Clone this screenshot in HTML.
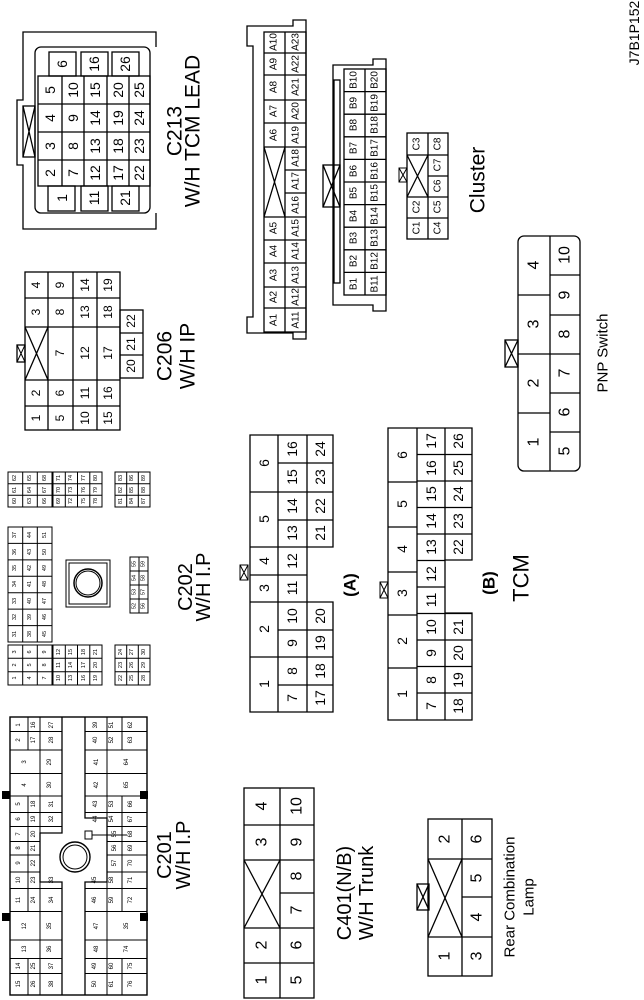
<!DOCTYPE html>
<html><head><meta charset="utf-8"><style>
html,body{margin:0;padding:0;background:#fff;}
svg{display:block}
text{font-family:"Liberation Sans",sans-serif;text-anchor:middle;dominant-baseline:central;fill:#000}
.s{fill:none;stroke:#000;stroke-width:1.3}
.t{stroke-width:1}
</style></head><body>
<svg width="644" height="1000" viewBox="0 0 644 1000" xmlns="http://www.w3.org/2000/svg">

<!-- header -->
<text x="634" y="33" transform="rotate(-90 634 33)" font-size="14">J7B1P152</text>

<!-- ===== C213 ===== -->
<path class="s" d="M156,47 V32 H23 V100 H17 V165 H23 V229 H156 V213" stroke-width="1.8"/>
<rect class="s" x="35" y="47" width="115" height="166" rx="6" stroke-width="1.8"/>
<rect class="s" x="23" y="106" width="12" height="51"/>
<path class="s" d="M23,106 L35,157 M35,106 L23,157"/>
<rect class="s" x="38" y="76" width="112" height="110"/>
<path class="s" d="M62,76V186 M84,76V186 M107,76V186 M129,76V186 M38,104H150 M38,132H150 M38,160H150"/>
<rect class="s" x="49" y="52" width="27" height="24"/><rect class="s" x="81" y="52" width="27" height="24"/><rect class="s" x="112" y="52" width="27" height="24"/>
<rect class="s" x="48" y="186" width="27" height="25"/><rect class="s" x="81" y="186" width="27" height="25"/><rect class="s" x="112" y="186" width="27" height="25"/>
<g font-size="14">
<text x="62" y="64" transform="rotate(-90 62 64)">6</text>
<text x="94" y="64" transform="rotate(-90 94 64)">16</text>
<text x="125" y="64" transform="rotate(-90 125 64)">26</text>
<text x="62" y="198" transform="rotate(-90 62 198)">1</text>
<text x="94" y="198" transform="rotate(-90 94 198)">11</text>
<text x="125" y="198" transform="rotate(-90 125 198)">21</text>
<text x="50" y="90" transform="rotate(-90 50 90)">5</text>
<text x="50" y="118" transform="rotate(-90 50 118)">4</text>
<text x="50" y="146" transform="rotate(-90 50 146)">3</text>
<text x="50" y="173" transform="rotate(-90 50 173)">2</text>
<text x="73" y="90" transform="rotate(-90 73 90)">10</text>
<text x="73" y="118" transform="rotate(-90 73 118)">9</text>
<text x="73" y="146" transform="rotate(-90 73 146)">8</text>
<text x="73" y="173" transform="rotate(-90 73 173)">7</text>
<text x="95" y="90" transform="rotate(-90 95 90)">15</text>
<text x="95" y="118" transform="rotate(-90 95 118)">14</text>
<text x="95" y="146" transform="rotate(-90 95 146)">13</text>
<text x="95" y="173" transform="rotate(-90 95 173)">12</text>
<text x="118" y="90" transform="rotate(-90 118 90)">20</text>
<text x="118" y="118" transform="rotate(-90 118 118)">19</text>
<text x="118" y="146" transform="rotate(-90 118 146)">18</text>
<text x="118" y="173" transform="rotate(-90 118 173)">17</text>
<text x="139" y="90" transform="rotate(-90 139 90)">25</text>
<text x="139" y="118" transform="rotate(-90 139 118)">24</text>
<text x="139" y="146" transform="rotate(-90 139 146)">23</text>
<text x="139" y="173" transform="rotate(-90 139 173)">22</text>
</g>
<g font-size="21">
<text x="175" y="131" transform="rotate(-90 175 131)">C213</text>
<text x="193" y="131" transform="rotate(-90 193 131)">W/H TCM LEAD</text>
</g>

<!-- ===== C206 ===== -->
<rect class="s" x="25" y="272" width="95" height="158"/>
<path class="s" d="M48,272V430 M73,272V430 M97,272V430 M25,298H120 M25,327H120 M25,380H120 M25,406H120 M25,327L48,380 M48,327L25,380"/>
<rect class="s" x="120" y="310" width="23" height="68"/>
<path class="s" d="M120,333H143 M120,355H143"/>
<rect class="s" x="17" y="345" width="8" height="17"/><path class="s t" d="M17,345L25,362M25,345L17,362"/>
<g font-size="12">
<text x="36" y="285" transform="rotate(-90 36 285)">4</text>
<text x="36" y="312" transform="rotate(-90 36 312)">3</text>
<text x="36" y="393" transform="rotate(-90 36 393)">2</text>
<text x="36" y="418" transform="rotate(-90 36 418)">1</text>
<text x="60" y="285" transform="rotate(-90 60 285)">9</text>
<text x="60" y="312" transform="rotate(-90 60 312)">8</text>
<text x="60" y="353" transform="rotate(-90 60 353)">7</text>
<text x="60" y="393" transform="rotate(-90 60 393)">6</text>
<text x="60" y="418" transform="rotate(-90 60 418)">5</text>
<text x="85" y="285" transform="rotate(-90 85 285)">14</text>
<text x="85" y="312" transform="rotate(-90 85 312)">13</text>
<text x="85" y="353" transform="rotate(-90 85 353)">12</text>
<text x="85" y="393" transform="rotate(-90 85 393)">11</text>
<text x="85" y="418" transform="rotate(-90 85 418)">10</text>
<text x="108" y="285" transform="rotate(-90 108 285)">19</text>
<text x="108" y="312" transform="rotate(-90 108 312)">18</text>
<text x="108" y="353" transform="rotate(-90 108 353)">17</text>
<text x="108" y="393" transform="rotate(-90 108 393)">16</text>
<text x="108" y="418" transform="rotate(-90 108 418)">15</text>
<text x="131" y="321" transform="rotate(-90 131 321)">22</text>
<text x="131" y="344" transform="rotate(-90 131 344)">21</text>
<text x="131" y="366" transform="rotate(-90 131 366)">20</text>
</g>
<g font-size="21">
<text x="165" y="356" transform="rotate(-90 165 356)">C206</text>
<text x="188" y="356" transform="rotate(-90 188 356)">W/H IP</text>
</g>

<!-- ===== Cluster A ===== -->
<path class="s" d="M293,26 V20 H306 V339 H293 V333 H247 V317 H253 V46 H247 V26 Z"/>
<rect class="s" x="264" y="32" width="42" height="300"/>
<path class="s" d="M285,32V332 M264,53H306 M264,75H306 M264,100H306 M264,123H306 M264,147H306 M285,170H306 M285,193H306 M264,217H306 M264,240H306 M264,263H306 M264,287H306 M264,308H306 M264,147L285,217 M285,147L264,217"/>
<g font-size="10">
<text x="274" y="42" transform="rotate(-90 274 42)">A10</text>
<text x="274" y="64" transform="rotate(-90 274 64)">A9</text>
<text x="274" y="87" transform="rotate(-90 274 87)">A8</text>
<text x="274" y="111" transform="rotate(-90 274 111)">A7</text>
<text x="274" y="135" transform="rotate(-90 274 135)">A6</text>
<text x="274" y="228" transform="rotate(-90 274 228)">A5</text>
<text x="274" y="251" transform="rotate(-90 274 251)">A4</text>
<text x="274" y="275" transform="rotate(-90 274 275)">A3</text>
<text x="274" y="297" transform="rotate(-90 274 297)">A2</text>
<text x="274" y="320" transform="rotate(-90 274 320)">A1</text>
<text x="296" y="42" transform="rotate(-90 296 42)">A23</text>
<text x="296" y="64" transform="rotate(-90 296 64)">A22</text>
<text x="296" y="87" transform="rotate(-90 296 87)">A21</text>
<text x="296" y="111" transform="rotate(-90 296 111)">A20</text>
<text x="296" y="135" transform="rotate(-90 296 135)">A19</text>
<text x="296" y="158" transform="rotate(-90 296 158)">A18</text>
<text x="296" y="181" transform="rotate(-90 296 181)">A17</text>
<text x="296" y="205" transform="rotate(-90 296 205)">A16</text>
<text x="296" y="228" transform="rotate(-90 296 228)">A15</text>
<text x="296" y="251" transform="rotate(-90 296 251)">A14</text>
<text x="296" y="275" transform="rotate(-90 296 275)">A13</text>
<text x="296" y="297" transform="rotate(-90 296 297)">A12</text>
<text x="296" y="320" transform="rotate(-90 296 320)">A11</text>
</g>

<!-- ===== Cluster B ===== -->
<path class="s" d="M373,65 V59 H386 V311 H373 V305 H333 V65 Z"/>
<rect class="s" x="334" y="80" width="6" height="203"/>
<rect class="s" x="323" y="165" width="17" height="42" fill="#fff"/><path class="s" d="M323,165L340,207M340,165L323,207"/>
<rect class="s" x="344" y="69" width="42" height="226"/>
<path class="s" d="M365,69V295 M344,91.6H386 M344,114.2H386 M344,136.8H386 M344,159.4H386 M344,182H386 M344,204.6H386 M344,227.2H386 M344,249.8H386 M344,272.4H386"/>
<g font-size="10">
<text x="354" y="80" transform="rotate(-90 354 80)">B10</text>
<text x="354" y="103" transform="rotate(-90 354 103)">B9</text>
<text x="354" y="125" transform="rotate(-90 354 125)">B8</text>
<text x="354" y="148" transform="rotate(-90 354 148)">B7</text>
<text x="354" y="171" transform="rotate(-90 354 171)">B6</text>
<text x="354" y="193" transform="rotate(-90 354 193)">B5</text>
<text x="354" y="216" transform="rotate(-90 354 216)">B4</text>
<text x="354" y="238" transform="rotate(-90 354 238)">B3</text>
<text x="354" y="261" transform="rotate(-90 354 261)">B2</text>
<text x="354" y="284" transform="rotate(-90 354 284)">B1</text>
<text x="375" y="80" transform="rotate(-90 375 80)">B20</text>
<text x="375" y="103" transform="rotate(-90 375 103)">B19</text>
<text x="375" y="125" transform="rotate(-90 375 125)">B18</text>
<text x="375" y="148" transform="rotate(-90 375 148)">B17</text>
<text x="375" y="171" transform="rotate(-90 375 171)">B16</text>
<text x="375" y="193" transform="rotate(-90 375 193)">B15</text>
<text x="375" y="216" transform="rotate(-90 375 216)">B14</text>
<text x="375" y="238" transform="rotate(-90 375 238)">B13</text>
<text x="375" y="261" transform="rotate(-90 375 261)">B12</text>
<text x="375" y="284" transform="rotate(-90 375 284)">B11</text>
</g>

<!-- ===== Cluster C ===== -->
<rect class="s" x="407" y="133" width="41" height="106"/>
<path class="s" d="M428,133V239 M407,155H448 M428,176H448 M407,197H448 M407,218H448 M407,155L428,197 M428,155L407,197"/>
<rect class="s t" x="399" y="168" width="8" height="14"/><path class="s t" d="M399,168L407,182M407,168L399,182"/>
<g font-size="10">
<text x="417" y="144" transform="rotate(-90 417 144)">C3</text>
<text x="417" y="207" transform="rotate(-90 417 207)">C2</text>
<text x="417" y="228" transform="rotate(-90 417 228)">C1</text>
<text x="438" y="144" transform="rotate(-90 438 144)">C8</text>
<text x="438" y="165" transform="rotate(-90 438 165)">C7</text>
<text x="438" y="186" transform="rotate(-90 438 186)">C6</text>
<text x="438" y="207" transform="rotate(-90 438 207)">C5</text>
<text x="438" y="228" transform="rotate(-90 438 228)">C4</text>
</g>
<text x="478" y="180" transform="rotate(-90 478 180)" font-size="21">Cluster</text>

<!-- ===== PNP ===== -->
<rect class="s" x="518" y="236" width="62" height="235" rx="6"/>
<path class="s" d="M550,236V471 M518,295H550 M518,354H580 M518,413H550 M550,275H580 M550,315H580 M550,393H580 M550,432H580"/>
<rect class="s" x="505" y="340" width="13" height="27"/><path class="s" d="M505,340L518,367M518,340L505,367"/>
<g font-size="16">
<text x="534" y="265" transform="rotate(-90 534 265)">4</text>
<text x="534" y="324" transform="rotate(-90 534 324)">3</text>
<text x="534" y="383" transform="rotate(-90 534 383)">2</text>
<text x="534" y="442" transform="rotate(-90 534 442)">1</text>
<text x="565" y="255" transform="rotate(-90 565 255)">10</text>
<text x="565" y="295" transform="rotate(-90 565 295)">9</text>
<text x="565" y="334" transform="rotate(-90 565 334)">8</text>
<text x="565" y="373" transform="rotate(-90 565 373)">7</text>
<text x="565" y="412" transform="rotate(-90 565 412)">6</text>
<text x="565" y="451" transform="rotate(-90 565 451)">5</text>
</g>
<text x="603" y="353" transform="rotate(-90 603 353)" font-size="15">PNP Switch</text>

<!-- ===== TCM (A) ===== -->
<path class="s" d="M250,435 H333 V547 H307 V602 H333 V712 H250 Z" stroke-width="1.6"/>
<path class="s" d="M278,435V712 M307,435V547 M307,602V712 M250,492H278 M250,547H307 M250,575H307 M250,602H307 M250,657H278 M278,463H333 M278,492H333 M278,520H333 M278,630H333 M278,657H333 M278,685H333"/>
<rect class="s t" x="240" y="565" width="8" height="15"/><path class="s t" d="M240,565L248,580M248,565L240,580"/>
<g font-size="14">
<text x="264" y="463" transform="rotate(-90 264 463)">6</text>
<text x="264" y="519" transform="rotate(-90 264 519)">5</text>
<text x="264" y="561" transform="rotate(-90 264 561)">4</text>
<text x="264" y="588" transform="rotate(-90 264 588)">3</text>
<text x="264" y="629" transform="rotate(-90 264 629)">2</text>
<text x="264" y="684" transform="rotate(-90 264 684)">1</text>
<text x="292" y="449" transform="rotate(-90 292 449)">16</text>
<text x="292" y="477" transform="rotate(-90 292 477)">15</text>
<text x="292" y="506" transform="rotate(-90 292 506)">14</text>
<text x="292" y="533" transform="rotate(-90 292 533)">13</text>
<text x="292" y="561" transform="rotate(-90 292 561)">12</text>
<text x="292" y="588" transform="rotate(-90 292 588)">11</text>
<text x="292" y="616" transform="rotate(-90 292 616)">10</text>
<text x="292" y="643" transform="rotate(-90 292 643)">9</text>
<text x="292" y="671" transform="rotate(-90 292 671)">8</text>
<text x="292" y="698" transform="rotate(-90 292 698)">7</text>
<text x="320" y="449" transform="rotate(-90 320 449)">24</text>
<text x="320" y="477" transform="rotate(-90 320 477)">23</text>
<text x="320" y="506" transform="rotate(-90 320 506)">22</text>
<text x="320" y="533" transform="rotate(-90 320 533)">21</text>
<text x="320" y="616" transform="rotate(-90 320 616)">20</text>
<text x="320" y="643" transform="rotate(-90 320 643)">19</text>
<text x="320" y="671" transform="rotate(-90 320 671)">18</text>
<text x="320" y="698" transform="rotate(-90 320 698)">17</text>
</g>
<text x="350" y="585" transform="rotate(-90 350 585)" font-size="17" font-weight="bold">(A)</text>

<!-- ===== TCM (B) ===== -->
<path class="s" d="M388,428 H472 V560 H445 V613 H472 V720 H388 Z" stroke-width="1.6"/>
<path class="s" d="M417,428V720 M445,428V560 M445,613V720 M388,482H417 M388,527H417 M388,572H417 M388,615H417 M388,668H417
M417,454.5H472 M417,481H472 M417,507.5H472 M417,534H472 M417,560.5H445 M417,587H445 M417,613.5H472 M417,640H472 M417,666.5H472 M417,693H472"/>
<rect class="s t" x="380" y="582" width="8" height="16"/><path class="s t" d="M380,582L388,598M388,582L380,598"/>
<g font-size="14">
<text x="402" y="455" transform="rotate(-90 402 455)">6</text>
<text x="402" y="504" transform="rotate(-90 402 504)">5</text>
<text x="402" y="549" transform="rotate(-90 402 549)">4</text>
<text x="402" y="593" transform="rotate(-90 402 593)">3</text>
<text x="402" y="641" transform="rotate(-90 402 641)">2</text>
<text x="402" y="694" transform="rotate(-90 402 694)">1</text>
<text x="431" y="441" transform="rotate(-90 431 441)">17</text>
<text x="431" y="468" transform="rotate(-90 431 468)">16</text>
<text x="431" y="494" transform="rotate(-90 431 494)">15</text>
<text x="431" y="521" transform="rotate(-90 431 521)">14</text>
<text x="431" y="547" transform="rotate(-90 431 547)">13</text>
<text x="431" y="574" transform="rotate(-90 431 574)">12</text>
<text x="431" y="600" transform="rotate(-90 431 600)">11</text>
<text x="431" y="627" transform="rotate(-90 431 627)">10</text>
<text x="431" y="653" transform="rotate(-90 431 653)">9</text>
<text x="431" y="680" transform="rotate(-90 431 680)">8</text>
<text x="431" y="706" transform="rotate(-90 431 706)">7</text>
<text x="458" y="441" transform="rotate(-90 458 441)">26</text>
<text x="458" y="468" transform="rotate(-90 458 468)">25</text>
<text x="458" y="494" transform="rotate(-90 458 494)">24</text>
<text x="458" y="521" transform="rotate(-90 458 521)">23</text>
<text x="458" y="547" transform="rotate(-90 458 547)">22</text>
<text x="458" y="627" transform="rotate(-90 458 627)">21</text>
<text x="458" y="653" transform="rotate(-90 458 653)">20</text>
<text x="458" y="680" transform="rotate(-90 458 680)">19</text>
<text x="458" y="706" transform="rotate(-90 458 706)">18</text>
</g>
<text x="489" y="583" transform="rotate(-90 489 583)" font-size="17" font-weight="bold">(B)</text>
<text x="521" y="578" transform="rotate(-90 521 578)" font-size="22">TCM</text>

<!-- ===== C401 ===== -->
<rect class="s" x="244" y="788" width="70" height="210" stroke-width="1.6"/>
<path class="s" d="M280,788V998 M244,825H314 M244,860H314 M280,893H314 M244,928H314 M244,963H314 M244,860L280,928 M280,860L244,928"/>
<g font-size="16">
<text x="262" y="806" transform="rotate(-90 262 806)">4</text>
<text x="262" y="842" transform="rotate(-90 262 842)">3</text>
<text x="262" y="945" transform="rotate(-90 262 945)">2</text>
<text x="262" y="980" transform="rotate(-90 262 980)">1</text>
<text x="297" y="806" transform="rotate(-90 297 806)">10</text>
<text x="297" y="842" transform="rotate(-90 297 842)">9</text>
<text x="297" y="876" transform="rotate(-90 297 876)">8</text>
<text x="297" y="910" transform="rotate(-90 297 910)">7</text>
<text x="297" y="945" transform="rotate(-90 297 945)">6</text>
<text x="297" y="980" transform="rotate(-90 297 980)">5</text>
</g>
<g font-size="20">
<text x="345" y="893" transform="rotate(-90 345 893)">C401(N/B)</text>
<text x="367" y="893" transform="rotate(-90 367 893)">W/H Trunk</text>
</g>

<!-- ===== Rear Combination ===== -->
<rect class="s" x="428" y="819" width="64" height="157" stroke-width="1.6"/>
<path class="s" d="M462,819V976 M428,859H492 M462,897H492 M428,937H492 M428,859L462,937 M462,859L428,937"/>
<rect class="s" x="417" y="884" width="12" height="26"/><path class="s" d="M417,884L429,910M429,884L417,910"/>
<g font-size="16">
<text x="445" y="839" transform="rotate(-90 445 839)">2</text>
<text x="445" y="956" transform="rotate(-90 445 956)">1</text>
<text x="477" y="839" transform="rotate(-90 477 839)">6</text>
<text x="477" y="878" transform="rotate(-90 477 878)">5</text>
<text x="477" y="917" transform="rotate(-90 477 917)">4</text>
<text x="477" y="956" transform="rotate(-90 477 956)">3</text>
</g>
<g font-size="15">
<text x="510" y="897" transform="rotate(-90 510 897)">Rear Combination</text>
<text x="529" y="897" transform="rotate(-90 529 897)">Lamp</text>
</g>

<!-- ===== C202 ===== -->
<g class="s t">
<rect x="8" y="472" width="44" height="35"/><path d="M22.7,472V507 M37.3,472V507 M8,483.7H52 M8,495.3H52"/>
<rect x="53" y="472" width="49" height="35"/><path d="M65.3,472V507 M77.5,472V507 M89.8,472V507 M53,483.7H102 M53,495.3H102"/>
<rect x="115" y="472" width="35" height="35"/><path d="M126.7,472V507 M138.3,472V507 M115,483.7H150 M115,495.3H150"/>
<rect x="8" y="527" width="44" height="115"/><path d="M22.7,527V642 M37.3,527V642 M8,543.4H52 M8,559.9H52 M8,576.3H52 M8,592.7H52 M8,609.1H52 M8,625.6H52"/>
<rect x="130" y="557" width="18" height="56"/><path d="M139,557V613 M130,571H148 M130,585H148 M130,599H148"/>
<rect x="8" y="645" width="44" height="40"/><path d="M22.7,645V685 M37.3,645V685 M8,658.3H52 M8,671.7H52"/>
<rect x="53" y="645" width="49" height="40"/><path d="M65.3,645V685 M77.5,645V685 M89.8,645V685 M53,658.3H102 M53,671.7H102"/>
<rect x="115" y="645" width="35" height="40"/><path d="M126.7,645V685 M138.3,645V685 M115,658.3H150 M115,671.7H150"/>
<rect x="66" y="560" width="44" height="47"/><rect x="69" y="563" width="38" height="41"/>
<circle cx="88" cy="583" r="14" stroke-width="1.5"/><circle cx="88" cy="583" r="12"/>
</g>
<g font-size="5.5">
<text x="15" y="478" transform="rotate(-90 15 478)">62</text><text x="15" y="490" transform="rotate(-90 15 490)">61</text><text x="15" y="501" transform="rotate(-90 15 501)">60</text>
<text x="30" y="478" transform="rotate(-90 30 478)">65</text><text x="30" y="490" transform="rotate(-90 30 490)">64</text><text x="30" y="501" transform="rotate(-90 30 501)">63</text>
<text x="45" y="478" transform="rotate(-90 45 478)">68</text><text x="45" y="490" transform="rotate(-90 45 490)">67</text><text x="45" y="501" transform="rotate(-90 45 501)">66</text>
<text x="59" y="478" transform="rotate(-90 59 478)">71</text><text x="59" y="490" transform="rotate(-90 59 490)">70</text><text x="59" y="501" transform="rotate(-90 59 501)">69</text>
<text x="71" y="478" transform="rotate(-90 71 478)">74</text><text x="71" y="490" transform="rotate(-90 71 490)">73</text><text x="71" y="501" transform="rotate(-90 71 501)">72</text>
<text x="84" y="478" transform="rotate(-90 84 478)">77</text><text x="84" y="490" transform="rotate(-90 84 490)">76</text><text x="84" y="501" transform="rotate(-90 84 501)">75</text>
<text x="96" y="478" transform="rotate(-90 96 478)">80</text><text x="96" y="490" transform="rotate(-90 96 490)">79</text><text x="96" y="501" transform="rotate(-90 96 501)">78</text>
<text x="121" y="478" transform="rotate(-90 121 478)">83</text><text x="121" y="490" transform="rotate(-90 121 490)">82</text><text x="121" y="501" transform="rotate(-90 121 501)">81</text>
<text x="132" y="478" transform="rotate(-90 132 478)">86</text><text x="132" y="490" transform="rotate(-90 132 490)">85</text><text x="132" y="501" transform="rotate(-90 132 501)">84</text>
<text x="144" y="478" transform="rotate(-90 144 478)">89</text><text x="144" y="490" transform="rotate(-90 144 490)">88</text><text x="144" y="501" transform="rotate(-90 144 501)">87</text>

<text x="15" y="535" transform="rotate(-90 15 535)">37</text><text x="15" y="552" transform="rotate(-90 15 552)">36</text><text x="15" y="568" transform="rotate(-90 15 568)">35</text><text x="15" y="584" transform="rotate(-90 15 584)">34</text><text x="15" y="601" transform="rotate(-90 15 601)">33</text><text x="15" y="617" transform="rotate(-90 15 617)">32</text><text x="15" y="634" transform="rotate(-90 15 634)">31</text>
<text x="30" y="535" transform="rotate(-90 30 535)">44</text><text x="30" y="552" transform="rotate(-90 30 552)">43</text><text x="30" y="568" transform="rotate(-90 30 568)">42</text><text x="30" y="584" transform="rotate(-90 30 584)">41</text><text x="30" y="601" transform="rotate(-90 30 601)">40</text><text x="30" y="617" transform="rotate(-90 30 617)">39</text><text x="30" y="634" transform="rotate(-90 30 634)">38</text>
<text x="45" y="535" transform="rotate(-90 45 535)">51</text><text x="45" y="552" transform="rotate(-90 45 552)">50</text><text x="45" y="568" transform="rotate(-90 45 568)">49</text><text x="45" y="584" transform="rotate(-90 45 584)">48</text><text x="45" y="601" transform="rotate(-90 45 601)">47</text><text x="45" y="617" transform="rotate(-90 45 617)">46</text><text x="45" y="634" transform="rotate(-90 45 634)">45</text>

<text x="134.5" y="564" transform="rotate(-90 134.5 564)">55</text><text x="134.5" y="578" transform="rotate(-90 134.5 578)">54</text><text x="134.5" y="592" transform="rotate(-90 134.5 592)">53</text><text x="134.5" y="606" transform="rotate(-90 134.5 606)">52</text>
<text x="143.5" y="564" transform="rotate(-90 143.5 564)">59</text><text x="143.5" y="578" transform="rotate(-90 143.5 578)">58</text><text x="143.5" y="592" transform="rotate(-90 143.5 592)">57</text><text x="143.5" y="606" transform="rotate(-90 143.5 606)">56</text>

<text x="15" y="652" transform="rotate(-90 15 652)">3</text><text x="15" y="665" transform="rotate(-90 15 665)">2</text><text x="15" y="678" transform="rotate(-90 15 678)">1</text>
<text x="30" y="652" transform="rotate(-90 30 652)">6</text><text x="30" y="665" transform="rotate(-90 30 665)">5</text><text x="30" y="678" transform="rotate(-90 30 678)">4</text>
<text x="45" y="652" transform="rotate(-90 45 652)">9</text><text x="45" y="665" transform="rotate(-90 45 665)">8</text><text x="45" y="678" transform="rotate(-90 45 678)">7</text>
<text x="59" y="652" transform="rotate(-90 59 652)">12</text><text x="59" y="665" transform="rotate(-90 59 665)">11</text><text x="59" y="678" transform="rotate(-90 59 678)">10</text>
<text x="71" y="652" transform="rotate(-90 71 652)">15</text><text x="71" y="665" transform="rotate(-90 71 665)">14</text><text x="71" y="678" transform="rotate(-90 71 678)">13</text>
<text x="84" y="652" transform="rotate(-90 84 652)">18</text><text x="84" y="665" transform="rotate(-90 84 665)">17</text><text x="84" y="678" transform="rotate(-90 84 678)">16</text>
<text x="96" y="652" transform="rotate(-90 96 652)">21</text><text x="96" y="665" transform="rotate(-90 96 665)">20</text><text x="96" y="678" transform="rotate(-90 96 678)">19</text>
<text x="121" y="652" transform="rotate(-90 121 652)">24</text><text x="121" y="665" transform="rotate(-90 121 665)">23</text><text x="121" y="678" transform="rotate(-90 121 678)">22</text>
<text x="132" y="652" transform="rotate(-90 132 652)">27</text><text x="132" y="665" transform="rotate(-90 132 665)">26</text><text x="132" y="678" transform="rotate(-90 132 678)">25</text>
<text x="144" y="652" transform="rotate(-90 144 652)">30</text><text x="144" y="665" transform="rotate(-90 144 665)">29</text><text x="144" y="678" transform="rotate(-90 144 678)">28</text>
</g>
<g font-size="20">
<text x="186" y="587" transform="rotate(-90 186 587)">C202</text>
<text x="204" y="587" transform="rotate(-90 204 587)">W/H I.P</text>
</g>

<!-- ===== C201 ===== -->
<g class="s t">
<rect x="10" y="717" width="137" height="278" stroke-width="1.4"/>
<path d="M62,717 V833 H40 V882 H62 V995" stroke-width="1.3"/>
<path d="M85,717 V818 H107 V882 H85 V995" stroke-width="1.3"/>
<path d="M10,731.5H62 M10,750H62 M10,773.5H62 M10,796H62 M10,812.5H62 M10,826.5H62 M10,841.5H40 M10,855H40 M10,872H40 M10,888.5H62 M10,911.5H62 M10,940H62 M10,958.5H62 M10,973.5H62"/>
<path d="M28,717V750 M28,796V911.5 M28,958.5V995 M40,717V995"/>
<path d="M85,731.5H147 M85,750H147 M85,773.5H147 M85,796H147 M85,812.5H147 M107,826.5H147 M107,841.5H147 M107,855H147 M107,872H147 M85,888.5H147 M85,911.5H147 M85,940H147 M85,958.5H147 M85,973.5H147"/>
<path d="M107,717V995 M122,717V750 M122,796V911.5 M122,958.5V995"/>
<circle cx="75" cy="857" r="15" stroke-width="1.4"/><circle cx="75" cy="857" r="12"/>
<rect x="85" y="831" width="7" height="8"/><path d="M92,835H127"/>
</g>
<rect x="2" y="791" width="8" height="8"/><rect x="2" y="913" width="8" height="8"/>
<rect x="140" y="791" width="8" height="8"/><rect x="140" y="913" width="8" height="8"/>
<g font-size="6">
<text x="19" y="725" transform="rotate(-90 19 725)">1</text><text x="19" y="740" transform="rotate(-90 19 740)">2</text><text x="25" y="762" transform="rotate(-90 25 762)">3</text><text x="25" y="785" transform="rotate(-90 25 785)">4</text><text x="19" y="804" transform="rotate(-90 19 804)">5</text><text x="19" y="819" transform="rotate(-90 19 819)">6</text><text x="19" y="834" transform="rotate(-90 19 834)">7</text><text x="19" y="848" transform="rotate(-90 19 848)">8</text><text x="19" y="863" transform="rotate(-90 19 863)">9</text><text x="19" y="880" transform="rotate(-90 19 880)">10</text><text x="19" y="900" transform="rotate(-90 19 900)">11</text><text x="25" y="926" transform="rotate(-90 25 926)">12</text><text x="25" y="949" transform="rotate(-90 25 949)">13</text><text x="19" y="966" transform="rotate(-90 19 966)">14</text><text x="19" y="984" transform="rotate(-90 19 984)">15</text>
<text x="34" y="725" transform="rotate(-90 34 725)">16</text><text x="34" y="740" transform="rotate(-90 34 740)">17</text><text x="34" y="804" transform="rotate(-90 34 804)">18</text><text x="34" y="819" transform="rotate(-90 34 819)">19</text><text x="34" y="834" transform="rotate(-90 34 834)">20</text><text x="34" y="848" transform="rotate(-90 34 848)">21</text><text x="34" y="863" transform="rotate(-90 34 863)">22</text><text x="34" y="880" transform="rotate(-90 34 880)">23</text><text x="34" y="900" transform="rotate(-90 34 900)">24</text><text x="34" y="966" transform="rotate(-90 34 966)">25</text><text x="34" y="984" transform="rotate(-90 34 984)">26</text>
<text x="52" y="725" transform="rotate(-90 52 725)">27</text><text x="52" y="740" transform="rotate(-90 52 740)">28</text><text x="50" y="762" transform="rotate(-90 50 762)">29</text><text x="50" y="785" transform="rotate(-90 50 785)">30</text><text x="52" y="804" transform="rotate(-90 52 804)">31</text><text x="52" y="819" transform="rotate(-90 52 819)">32</text><text x="52" y="880" transform="rotate(-90 52 880)">33</text><text x="52" y="900" transform="rotate(-90 52 900)">34</text><text x="50" y="926" transform="rotate(-90 50 926)">35</text><text x="50" y="949" transform="rotate(-90 50 949)">36</text><text x="52" y="966" transform="rotate(-90 52 966)">37</text><text x="52" y="984" transform="rotate(-90 52 984)">38</text>
<text x="96" y="725" transform="rotate(-90 96 725)">39</text><text x="96" y="740" transform="rotate(-90 96 740)">40</text><text x="97" y="762" transform="rotate(-90 97 762)">41</text><text x="97" y="785" transform="rotate(-90 97 785)">42</text><text x="96" y="804" transform="rotate(-90 96 804)">43</text><text x="96" y="819" transform="rotate(-90 96 819)">44</text><text x="95" y="880" transform="rotate(-90 95 880)">45</text><text x="95" y="900" transform="rotate(-90 95 900)">46</text><text x="97" y="926" transform="rotate(-90 97 926)">47</text><text x="97" y="949" transform="rotate(-90 97 949)">48</text><text x="95" y="966" transform="rotate(-90 95 966)">49</text><text x="95" y="984" transform="rotate(-90 95 984)">50</text>
<text x="112" y="725" transform="rotate(-90 112 725)">51</text><text x="112" y="740" transform="rotate(-90 112 740)">52</text><text x="112" y="804" transform="rotate(-90 112 804)">53</text><text x="112" y="819" transform="rotate(-90 112 819)">54</text><text x="115" y="834" transform="rotate(-90 115 834)">55</text><text x="115" y="848" transform="rotate(-90 115 848)">56</text><text x="115" y="863" transform="rotate(-90 115 863)">57</text><text x="112" y="880" transform="rotate(-90 112 880)">58</text><text x="112" y="900" transform="rotate(-90 112 900)">59</text><text x="112" y="966" transform="rotate(-90 112 966)">60</text><text x="112" y="984" transform="rotate(-90 112 984)">61</text>
<text x="131" y="725" transform="rotate(-90 131 725)">62</text><text x="131" y="740" transform="rotate(-90 131 740)">63</text><text x="127" y="762" transform="rotate(-90 127 762)">64</text><text x="127" y="785" transform="rotate(-90 127 785)">65</text><text x="131" y="804" transform="rotate(-90 131 804)">66</text><text x="131" y="819" transform="rotate(-90 131 819)">67</text><text x="131" y="834" transform="rotate(-90 131 834)">68</text><text x="131" y="848" transform="rotate(-90 131 848)">69</text><text x="131" y="863" transform="rotate(-90 131 863)">70</text><text x="131" y="880" transform="rotate(-90 131 880)">71</text><text x="131" y="900" transform="rotate(-90 131 900)">72</text><text x="127" y="926" transform="rotate(-90 127 926)">35</text><text x="127" y="949" transform="rotate(-90 127 949)">74</text><text x="131" y="966" transform="rotate(-90 131 966)">75</text><text x="131" y="984" transform="rotate(-90 131 984)">76</text>
</g>
<g font-size="20">
<text x="165" y="855" transform="rotate(-90 165 855)">C201</text>
<text x="184" y="855" transform="rotate(-90 184 855)">W/H I.P</text>
</g>
</svg>
</body></html>
